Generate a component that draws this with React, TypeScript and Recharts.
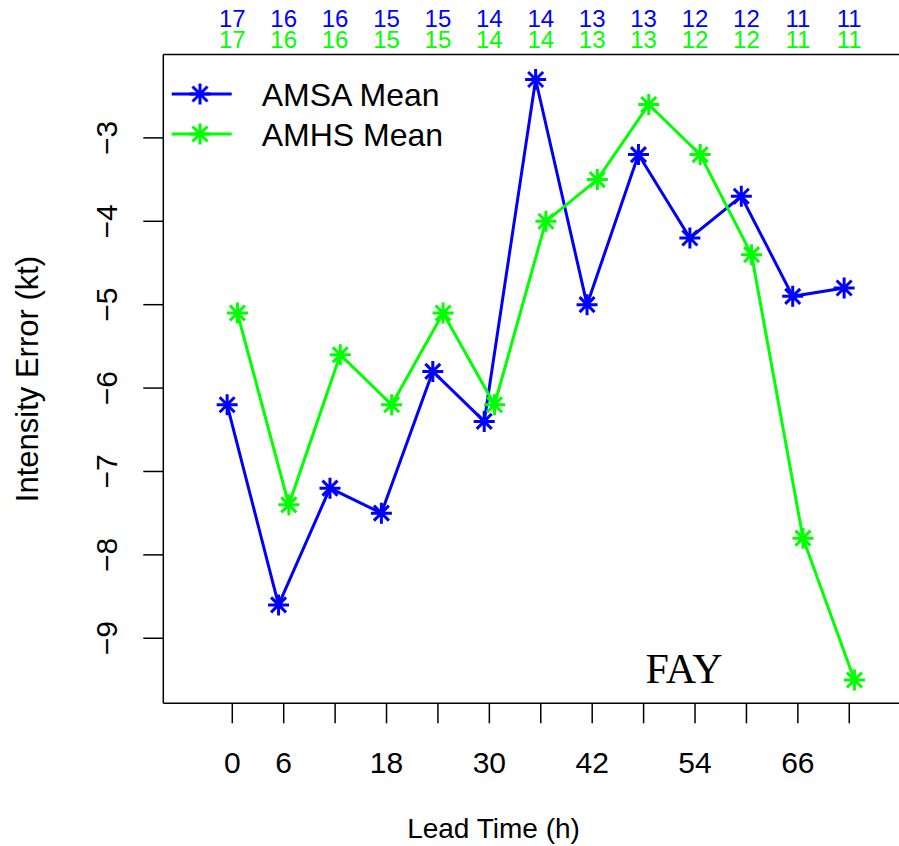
import React from 'react';
import { LineChart, Line, XAxis, YAxis, Customized } from 'recharts';

const leadTimes = [0, 6, 12, 18, 24, 30, 36, 42, 48, 54, 60, 66, 72];
const amsaMean = [-6.2, -8.6, -7.2, -7.5, -5.8, -6.4, -2.3, -5.0, -3.2, -4.2, -3.7, -4.9, -4.8];
const amhsMean = [-5.1, -7.4, -5.6, -6.2, -5.1, -6.2, -4.0, -3.5, -2.6, -3.2, -4.4, -7.8, -9.5];
const amsaCount = [17, 16, 16, 15, 15, 14, 14, 13, 13, 12, 12, 11, 11];
const amhsCount = [17, 16, 16, 15, 15, 14, 14, 13, 13, 12, 12, 11, 11];
const xTickLabels = [0, 6, 18, 30, 42, 54, 66];
const yTicks = [-9, -8, -7, -6, -5, -4, -3];

const BLUE = '#0000ff';
const GREEN = '#00ff00';
const SANS = '"Liberation Sans", Arial, Helvetica, sans-serif';
const SHIFT = 0.6; // horizontal dodge so the two series don't overlap

const amsaData = leadTimes.map((t, i) => ({ x: t - SHIFT, y: amsaMean[i] }));
const amhsData = leadTimes.map((t, i) => ({ x: t + SHIFT, y: amhsMean[i] }));

const Star = ({ cx, cy, color }: { cx: number; cy: number; color: string }) => {
  const a = 10.5;
  const d = 7.5;
  return (
    <path
      d={`M${cx - a},${cy}H${cx + a}M${cx},${cy - a}V${cy + a}M${cx - d},${cy - d}L${cx + d},${cy + d}M${cx - d},${cy + d}L${cx + d},${cy - d}`}
      stroke={color}
      strokeWidth={3}
      fill="none"
    />
  );
};

const starDot = (color: string) => (props: any) => {
  const { cx, cy, key } = props;
  if (cx == null || cy == null) return <g key={key} />;
  return <Star key={key} cx={cx} cy={cy} color={color} />;
};

const BottomTick = (props: any) => {
  const { x, payload } = props;
  if (!xTickLabels.includes(payload.value)) return <g />;
  return (
    <text x={x} y={773} textAnchor="middle" fontSize={30} fontFamily={SANS} fill="#000">
      {payload.value}
    </text>
  );
};

const TopTick = (props: any) => {
  const { x, payload } = props;
  const i = leadTimes.indexOf(payload.value);
  if (i < 0) return <g />;
  return (
    <g>
      <text x={x} y={27} textAnchor="middle" fontSize={24} fontFamily={SANS} fill={BLUE}>
        {amsaCount[i]}
      </text>
      <text x={x} y={48} textAnchor="middle" fontSize={24} fontFamily={SANS} fill={GREEN}>
        {amhsCount[i]}
      </text>
    </g>
  );
};

const LeftTick = (props: any) => {
  const { y, payload } = props;
  const bx = 117;
  return (
    <text
      x={bx}
      y={y}
      transform={`rotate(-90 ${bx} ${y})`}
      textAnchor="middle"
      fontSize={30}
      fontFamily={SANS}
      fill="#000"
    >
      {'\u2212' + Math.abs(payload.value)}
    </text>
  );
};

const legendRows = [
  { name: 'AMSA Mean', color: BLUE, cy: 94 },
  { name: 'AMHS Mean', color: GREEN, cy: 134 },
];

const Extras = () => (
  <g>
    {legendRows.map((r) => (
      <g key={r.name}>
        <line x1={171.7} x2={231.7} y1={r.cy} y2={r.cy} stroke={r.color} strokeWidth={3} />
        <Star cx={200} cy={r.cy} color={r.color} />
        <text x={261.7} y={r.cy + 11.5} fontSize={32} fontFamily={SANS} fill="#000">
          {r.name}
        </text>
      </g>
    ))}
    <text
      x={38}
      y={379}
      transform="rotate(-90 38 379)"
      textAnchor="middle"
      fontSize={31}
      fontFamily={SANS}
      fill="#000"
    >
      Intensity Error (kt)
    </text>
    <text x={493.5} y={838} textAnchor="middle" fontSize={28} fontFamily={SANS} fill="#000">
      Lead Time (h)
    </text>
    <text x={684} y={683} textAnchor="middle" fontSize={42} fontFamily='"Liberation Serif", "Times New Roman", serif' fill="#000">
      FAY
    </text>
  </g>
);

export default function App() {
  return (
    <div style={{ position: 'absolute', left: 0, top: 0, width: 899, height: 846, overflow: 'hidden', background: '#fff' }}>
      <LineChart width={920} height={846} margin={{ top: 0, right: 18.2, left: 0, bottom: 0 }}>
        <XAxis
          dataKey="x"
          type="number"
          domain={[-8.05, 78.13]}
          allowDataOverflow
          ticks={leadTimes}
          interval={0}
          height={142.7}
          tickSize={20}
          tick={<BottomTick />}
          axisLine={{ stroke: '#000', strokeWidth: 1.5 }}
          tickLine={{ stroke: '#000', strokeWidth: 1.5 }}
        />
        <XAxis
          xAxisId="top"
          orientation="top"
          dataKey="x"
          type="number"
          domain={[-8.05, 78.13]}
          allowDataOverflow
          ticks={leadTimes}
          interval={0}
          height={54.5}
          tickLine={false}
          tick={<TopTick />}
          axisLine={{ stroke: '#000', strokeWidth: 1.5 }}
        />
        <YAxis
          type="number"
          domain={[-9.78, -2.0]}
          allowDataOverflow
          ticks={yTicks}
          interval={0}
          width={163.3}
          tickSize={20}
          tick={<LeftTick />}
          axisLine={{ stroke: '#000', strokeWidth: 1.5 }}
          tickLine={{ stroke: '#000', strokeWidth: 1.5 }}
        />
        <Line
          data={amsaData}
          dataKey="y"
          name="AMSA Mean"
          stroke={BLUE}
          strokeWidth={3}
          dot={starDot(BLUE)}
          activeDot={false}
          isAnimationActive={false}
        />
        <Line
          data={amhsData}
          dataKey="y"
          name="AMHS Mean"
          stroke={GREEN}
          strokeWidth={3}
          dot={starDot(GREEN)}
          activeDot={false}
          isAnimationActive={false}
        />
        <Customized component={Extras} />
      </LineChart>
    </div>
  );
}
